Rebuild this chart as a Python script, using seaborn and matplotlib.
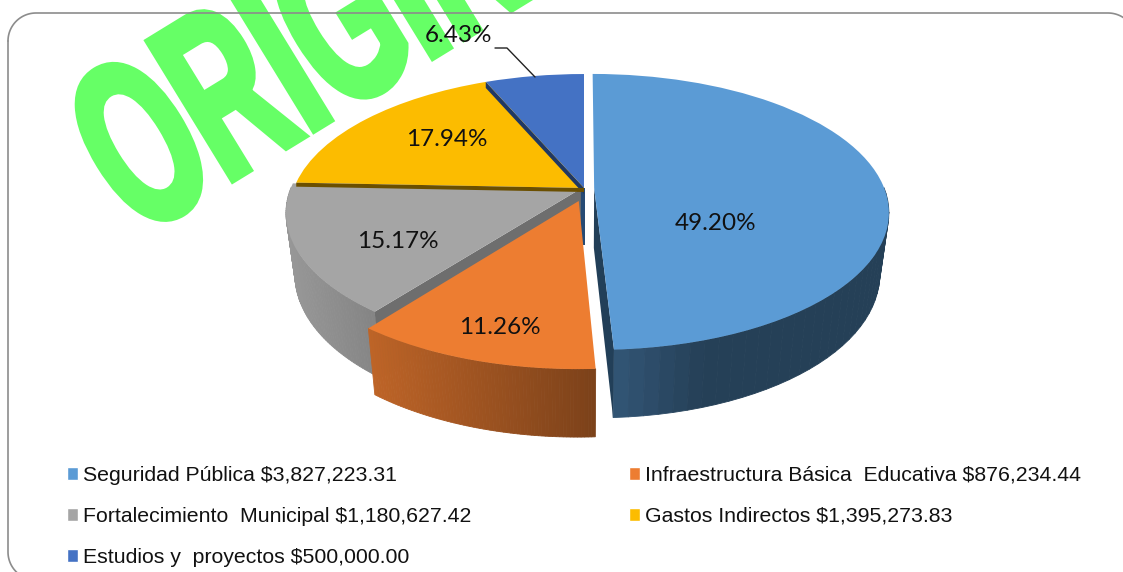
import numpy as np
import seaborn as sns
import matplotlib
matplotlib.use('Agg')
import matplotlib.pyplot as plt
import matplotlib.transforms as mtransforms
from matplotlib.patches import Patch
from matplotlib.patheffects import AbstractPathEffect

categories = ['Seguridad Pública', 'Infraestructura Básica  Educativa', 'Fortalecimiento  Municipal',
              'Gastos Indirectos', 'Estudios y  proyectos']
amounts = [3827223.31, 876234.44, 1180627.42, 1395273.83, 500000.00]
amount_labels = ['$3,827,223.31', '$876,234.44', '$1,180,627.42', '$1,395,273.83', '$500,000.00']
percent_labels = ['49.20%', '11.26%', '15.17%', '17.94%', '6.43%']
explode = [0.035, 0.10, 0.012, 0.0, 0.0]
colors = sns.color_palette(['#5b9bd5', '#ed7d31', '#a5a5a5', '#fcbc00', '#4472c4'])

# draw order back to front: estudios, yellow, gray, blue, orange
layer = [4, 5, 3, 2, 1]
# brightness of the outer wall: left end, right end, how fast it gets there
wall_shade = [(0.54, 0.41, 0.3), (0.80, 0.52, 1), (0.92, 0.80, 1), (0.5, 0.5, 1), (0.5, 0.5, 1)]

CX, CY, RX, RY, P = 584, 188, 290, 133.8, 0.174


class Perspective(mtransforms.Transform):
    input_dims = 2
    output_dims = 2
    is_separable = False
    has_inverse = False

    def transform_non_affine(self, values):
        values = np.asarray(values, dtype=float)
        w = 1 + P * values[:, 1]
        return np.column_stack([CX + RX * values[:, 0] / w, CY - RY * values[:, 1] / w])


class Squeeze(AbstractPathEffect):
    # WordArt look: glyphs narrower than tall and a bit heavier
    def __init__(self, sx, sy, stroke):
        super().__init__()
        self.sx, self.sy, self.stroke = sx, sy, stroke

    def draw_path(self, renderer, gc, tpath, affine, rgbFace=None):
        gc0 = renderer.new_gc()
        gc0.copy_properties(gc)
        gc0.set_linewidth(self.stroke)
        gc0.set_foreground(rgbFace)
        gc0.set_joinstyle('miter')
        renderer.draw_path(gc0, tpath, mtransforms.Affine2D().scale(self.sx, self.sy) + affine, rgbFace)
        gc0.restore()


sns.set_theme(style='white')
plt.rcParams['font.family'] = ['Liberation Sans', 'DejaVu Sans']

fig = plt.figure(figsize=(11.23, 5.72), dpi=100)
ax = fig.add_axes([0, 0, 1, 1])

wedges, _ = ax.pie(amounts, colors=colors, explode=explode, startangle=90, counterclock=False,
                   wedgeprops={'linewidth': 0})
ax.set_aspect('auto')
ax.set_xlim(0, 1123)
ax.set_ylim(572, 0)
ax.axis('off')

persp = Perspective()
blue, orange, gray, yellow, estudios = wedges
orange.set_center((orange.center[0] + 0.012, orange.center[1]))


def rim(wedge, angle):
    a = np.radians(angle)
    pt = np.array([[wedge.center[0] + np.cos(a), wedge.center[1] + np.sin(a)]])
    return persp.transform(pt)[0], np.sin(a)


def apex(wedge):
    return persp.transform(np.array([wedge.center]))[0]


def lower(pt, v):
    return np.array([CX + (pt[0] - CX) * 0.97, pt[1] + 60 - 8 * v])


for wedge, color, z, shade in zip(wedges, colors, layer, wall_shade):
    wedge.set_transform(persp + ax.transData)
    wedge.set_zorder(z * 10 + 2)
    base = np.array(color)
    # outer wall, strip by strip so the shade can run across it
    angles = np.linspace(wedge.theta1, wedge.theta2, 70)
    points = [rim(wedge, a) for a in angles]
    front = [p for p in points if p[1] < 0.02]
    if len(front) > 1:
        xs = [p[0][0] for p in front]
        for (p0, v0), (p1, v1) in zip(front[:-1], front[1:]):
            t = (p0[0] - min(xs)) / (max(xs) - min(xs))
            t = min(t / shade[2], 1)
            c = np.clip(base * (shade[0] + t * (shade[1] - shade[0])), 0, 1)
            q0, q1 = lower(p0, v0), lower(p1, v1)
            ax.fill([p0[0], p1[0], q1[0], q0[0]], [p0[1], p1[1], q1[1], q0[1]],
                    color=c, lw=0.6, zorder=z * 10 + 1)


def cut_face(wedge, angle, color, zorder, thin=None):
    a0 = apex(wedge)
    r0, v = rim(wedge, angle)
    if thin is None:
        a1, r1 = lower(a0, 0), lower(r0, v)
    else:
        a1, r1 = a0 + [0, thin], r0 + [0, thin]
    ax.fill([a0[0], r0[0], r1[0], a1[0]], [a0[1], r0[1], r1[1], a1[1]],
            color=color, lw=0, zorder=zorder)


cut_face(blue, blue.theta1, '#223f58', 41)
cut_face(gray, gray.theta2, '#6e6e6e', 31)
cut_face(yellow, yellow.theta2, '#6b4f00', 33, thin=4)
cut_face(estudios, estudios.theta2, '#1f3864', 23, thin=6)
# dark sliver left at the middle, between orange and the blue slice
ax.fill([CX - 6, CX + 1, CX + 1, CX - 6], [CY, CY, CY + 57, CY + 57], color='#264a73', lw=0, zorder=15)

# watermark under the frame line
ax.text(138, 238, 'ORIGINAL', color='#66ff66', rotation=31.5, rotation_mode='anchor',
        ha='left', va='baseline', fontsize=100, fontweight='bold', zorder=1,
        path_effects=[Squeeze(0.95, 1.7, 5)])

# rounded frame, right and bottom run off the picture
x0, x1, y0, y1, r = 8, 1136, 13, 580, 28
arc = np.linspace(0, np.pi / 2, 24)
frame_x = np.r_[x0 + r - r * np.sin(arc[::-1]) * 1, x1 - r + r * np.sin(arc)]
frame_y = np.r_[y0 + r - r * np.cos(arc[::-1]), y0 + r - r * np.cos(arc)]
ax.plot(frame_x, frame_y, color='#8c8c8c', lw=1.2, zorder=3)
ax.plot(np.r_[x0, x0 + r - r * np.cos(arc)], np.r_[y0 + r, y1 - r + r * np.sin(arc)],
        color='#8c8c8c', lw=1.2, zorder=3)

# value labels
label_xy = [(716, 223), (500, 328), (398, 242), (447, 140), (458, 36)]
for text, (x, y) in zip(percent_labels, label_xy):
    ax.text(x, y, text, ha='center', va='center', fontsize=17.5, color='#111111',
            family=['Lato', 'DejaVu Sans'], zorder=70)
ax.plot([495, 507, 535], [48, 48, 77], color='#222222', lw=1, zorder=70)

legend_labels = [f'{c} {a}' for c, a in zip(categories, amount_labels)]
order = [0, 2, 4, 1, 3]
handles = [Patch(facecolor=colors[i], label=legend_labels[i]) for i in order]
fig.legend(handles=handles, ncols=2, frameon=False, fontsize=15.3,
           loc='upper left', bbox_to_anchor=(0.0425, 0.219), bbox_transform=fig.transFigure,
           handlelength=0.52, handleheight=0.52, handletextpad=0.25,
           labelspacing=1.04, columnspacing=7.4, labelcolor='#111111')

fig.savefig('out.png', dpi=100)
